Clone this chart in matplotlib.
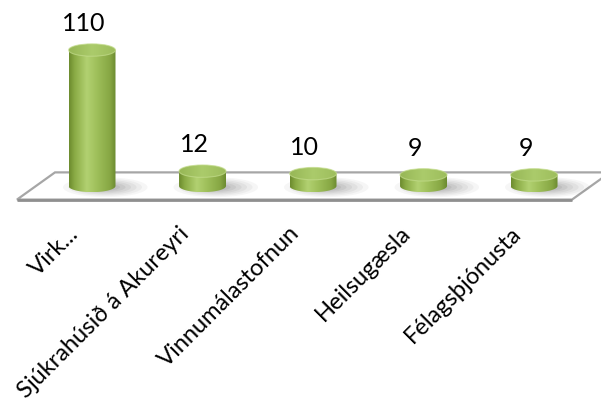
import numpy as np
import matplotlib
matplotlib.use("Agg")
import matplotlib.pyplot as plt
from matplotlib.path import Path
from matplotlib.patches import PathPatch, Ellipse, Polygon
from matplotlib.colors import LinearSegmentedColormap

# ---- data ----
categories = ["Virk...", "Sjúkrahúsið á Akureyri", "Vinnumálastofnun", "Heilsugæsla", "Félagsþjónusta"]
values = [110, 12, 10, 9, 9]
value_labels = ["110", "12", "10", "9", "9"]

plt.rcParams['font.family'] = ['Lato', 'DejaVu Sans']

fig = plt.figure(figsize=(6.01, 4.01), dpi=100)
ax = fig.add_axes([0, 0, 1, 1])
ax.set_xlim(-0.8326, 4.606)
ax.set_ylim(-174, 150.5)
ax.axis('off')

n = len(categories)
BAR_W = 0.425
ELL_H = 10.0     # full ellipse height in value units
DEPTH = 11.0     # half depth of floor in value units
SKEW = 0.344     # horizontal shift of back edge in index units

# floor
fl_left, fl_right = -0.679, n - 1 + 0.344 + 0.0
floor = Polygon([(fl_left, -DEPTH), (fl_left + SKEW, DEPTH),
                 (fl_right + SKEW, DEPTH), (fl_right, -DEPTH)],
                closed=True, facecolor='white', edgecolor='#a6a6a6', lw=1.6, zorder=1)
ax.add_patch(floor)
ax.plot([fl_left, fl_right], [-DEPTH, -DEPTH], color='#8f8f8f', lw=2.0, zorder=1.1,
        solid_capstyle='butt')

body_cmap = LinearSegmentedColormap.from_list('body', [
    (0.0, '#6c8a2e'), (0.12, '#8aab45'), (0.38, '#b2d171'), (0.6, '#9ebf5a'),
    (0.88, '#86a643'), (1.0, '#6b8a2f')])
top_cmap = LinearSegmentedColormap.from_list('top', [
    (0.0, '#97b756'), (0.5, '#abcb6b'), (1.0, '#9dbd5c')])

for i, v in enumerate(values):
    x = i
    # shadow
    for k, a in zip(range(6), [0.05, 0.06, 0.07, 0.08, 0.09, 0.10]):
        s = 1 - k * 0.13
        sh = Ellipse((x + 0.12, -1.0), BAR_W * 1.8 * s, ELL_H * 1.6 * s,
                     facecolor='#5a5a5a', edgecolor='none', alpha=a, zorder=2)
        ax.add_patch(sh)

    # body path
    th = np.linspace(np.pi, 2 * np.pi, 60)
    bx = x + BAR_W / 2 * np.cos(th)
    by = 0 + ELL_H / 2 * np.sin(th)
    verts = [(x - BAR_W / 2, v)] + list(zip(bx, by)) + [(x + BAR_W / 2, v), (x - BAR_W / 2, v)]
    path = Path(verts, closed=True)
    patch = PathPatch(path, facecolor='none', edgecolor='none', zorder=3)
    ax.add_patch(patch)
    grad = np.linspace(0, 1, 256).reshape(1, -1)
    im = ax.imshow(grad, cmap=body_cmap, aspect='auto', interpolation='bicubic',
                   extent=[x - BAR_W / 2, x + BAR_W / 2, -ELL_H / 2, v], zorder=3)
    im.set_clip_path(patch)

    # top ellipse
    top = Ellipse((x, v), BAR_W, ELL_H, facecolor='none', edgecolor='none', zorder=4)
    ax.add_patch(top)
    im2 = ax.imshow(grad, cmap=top_cmap, aspect='auto', interpolation='bicubic',
                    extent=[x - BAR_W / 2, x + BAR_W / 2, v - ELL_H / 2, v + ELL_H / 2], zorder=4)
    im2.set_clip_path(top)
    rim = Ellipse((x, v), BAR_W, ELL_H, facecolor='none', edgecolor='#c3dc8c', lw=0.8,
                  alpha=0.7, zorder=5)
    ax.add_patch(rim)

    # value label
    ax.annotate(value_labels[i], xy=(x, v), xytext=(-6, 19), textcoords='offset points',
                ha='center', va='center', fontsize=18, color='black', zorder=6)

    # category label
    ax.annotate(categories[i], xy=(x, -DEPTH), xytext=(-12, -22), textcoords='offset points',
                ha='right', va='center', rotation=45, rotation_mode='anchor',
                fontsize=17, color='black', zorder=6)

fig.savefig('out.png', dpi=100)
